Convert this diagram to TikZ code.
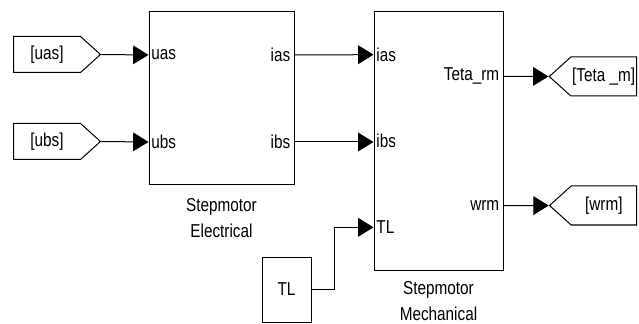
\documentclass[tikz,border=0pt]{standalone}
\usepackage{fontspec}
\setmainfont{Liberation Sans}[FakeStretch=0.82]
\usepackage{tikz}
\usetikzlibrary{positioning,calc,arrows.meta,shapes.symbols}
\tikzset{
  block/.style={
    draw,
    line width=0.75pt,
    shape=rectangle,
    inner sep=0pt
  },
  tagL/.style={
    draw,
    line width=0.75pt,
    shape=signal,
    signal to=east,
    signal pointer angle=84,
    minimum width=65.25pt,
    minimum height=27pt,
    inner sep=1pt
  },
  tagR/.style={
    tagL,
    signal to=west,
    minimum height=29.25pt
  },
  sig/.style={
    line width=0.75pt,
    -{Triangle[length=11.5pt,width=14pt]}
  },
  every picture/.style={
    font=\fontsize{14}{19.5}\selectfont
  }
}

\begin{document}
\begin{tikzpicture}[x=0.75pt,y=-0.75pt]
  \useasboundingbox (0,0) rectangle (639,324);
  % blocks
  \node[block,minimum width=108.75pt,minimum height=129.75pt] (elec) at (221.5,98.5) {};
  \node[block,minimum width=96.75pt,minimum height=193.5pt] (mech) at (438.5,141) {};
  \node[block,minimum width=36.75pt,minimum height=48.75pt] (TL) at (286.5,289.5) {TL};
  \node[below=6pt of elec,align=center] (elecName) {Stepmotor\\Electrical};
  \node[below=5pt of mech,align=center] (mechName) {Stepmotor\\Mechanical};
  % ports
  \coordinate (elecIn1) at ($(elec.north west)!.25!(elec.south west)$);
  \coordinate (elecIn2) at ($(elec.north west)!.75!(elec.south west)$);
  \coordinate (elecOut1) at ($(elec.north east)!.25!(elec.south east)$);
  \coordinate (elecOut2) at ($(elec.north east)!.75!(elec.south east)$);
  \coordinate (mechIn1) at ($(mech.north west)!1/6!(mech.south west)$);
  \coordinate (mechIn2) at ($(mech.north west)!3/6!(mech.south west)$);
  \coordinate (mechIn3) at ($(mech.north west)!5/6!(mech.south west)$);
  \coordinate (mechOut1) at ($(mech.north east)!.25!(mech.south east)$);
  \coordinate (mechOut2) at ($(mech.north east)!.75!(mech.south east)$);
  \node[anchor=west,inner sep=2pt] (lUas) at (elecIn1) {uas};
  \node[anchor=west,inner sep=2pt] (lUbs) at (elecIn2) {ubs};
  \node[anchor=east,inner sep=3pt] (lIas) at (elecOut1) {ias};
  \node[anchor=east,inner sep=3pt] (lIbs) at (elecOut2) {ibs};
  \node[anchor=west,inner sep=2pt] (lIas2) at (mechIn1) {ias};
  \node[anchor=west,inner sep=2pt] (lIbs2) at (mechIn2) {ibs};
  \node[anchor=west,inner sep=2pt] (lTL) at (mechIn3) {TL};
  \node[anchor=east,inner sep=3pt] (lTeta) at (mechOut1) {Teta\_rm};
  \node[anchor=east,inner sep=3pt] (lWrm) at (mechOut2) {wrm};
  % goto tags
  \node[tagL,anchor=west] (tagUas) at (13,54.5) {[uas]};
  \node[tagL,anchor=west] (tagUbs) at (13,141.5) {[ubs]};
  \node[tagR,anchor=east] (tagTeta) at (637,76.5) {[Teta \_m]};
  \node[tagR,anchor=east] (tagWrm) at (637,205.5) {[wrm]};
  % signals
  \draw[sig] (tagUas.east) -- (elecIn1);
  \draw[sig] (tagUbs.east) -- (elecIn2);
  \draw[sig] (elecOut1) -- (mechIn1);
  \draw[sig] (elecOut2) -- (elecOut2 -| mech.west);
  \draw[sig] (TL.east) -- ++(23,0) |- (mechIn3);
  \draw[sig] (mechOut1) -- (tagTeta.west);
  \draw[sig] (mechOut2) -- (tagWrm.west);
\end{tikzpicture}
\end{document}
